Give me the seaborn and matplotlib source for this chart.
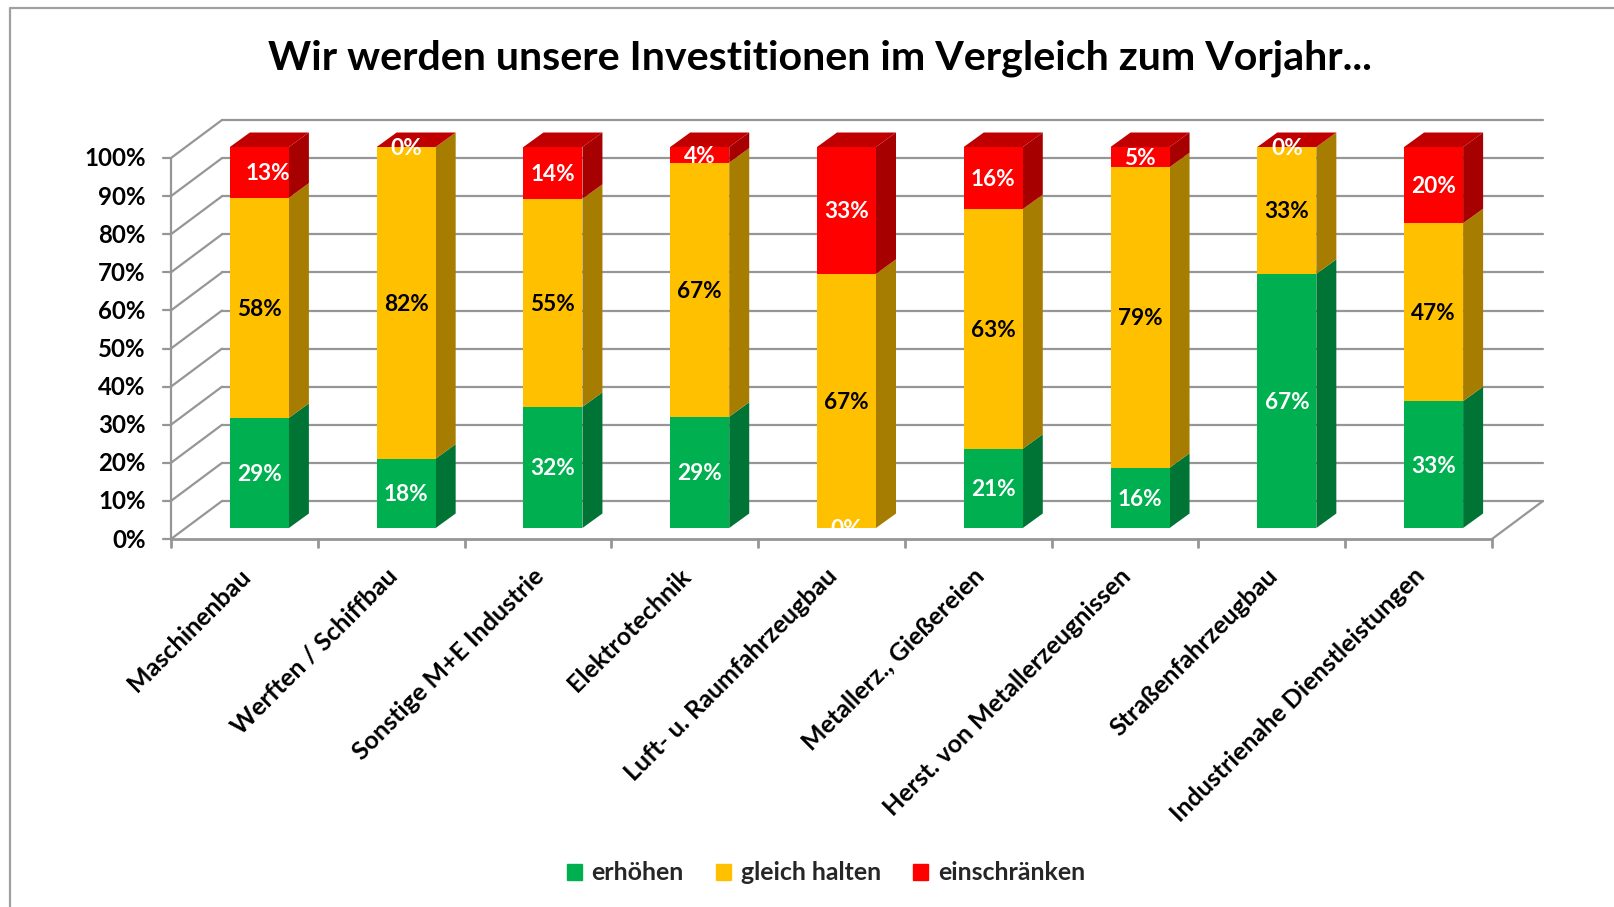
import matplotlib
matplotlib.use("Agg")
import matplotlib.pyplot as plt
import matplotlib.transforms as mtrans
from matplotlib.lines import Line2D
from matplotlib.patches import Patch
import numpy as np
import seaborn as sns

categories = ["Maschinenbau", "Werften / Schiffbau", "Sonstige M+E Industrie", "Elektrotechnik",
              "Luft- u. Raumfahrzeugbau", "Metallerz., Gießereien", "Herst. von Metallerzeugnissen",
              "Straßenfahrzeugbau", "Industrienahe Dienstleistungen"]
erhoehen = [28.9, 18.2, 31.8, 29.2, 0.0, 20.8, 15.8, 66.7, 33.3]
gleich_halten = [57.8, 81.8, 54.6, 66.7, 66.7, 62.9, 78.9, 33.3, 46.7]
einschraenken = [13.3, 0.0, 13.6, 4.1, 33.3, 16.3, 5.3, 0.0, 20.0]
series_names = ["erhöhen", "gleich halten", "einschränken"]
y_ticks = [0, 10, 20, 30, 40, 50, 60, 70, 80, 90, 100]

W, H = 1614, 907
GREY = "#969696"
FRONT = ["#00B050", "#FFC000", "#FF0000"]
SIDE = ["#007435", "#A67D00", "#A60000"]
CAP = "#C00000"

sns.set_theme(style="white")
plt.rcParams["font.family"] = ["Lato", "DejaVu Sans"]
plt.rcParams["font.weight"] = "bold"

fig = plt.figure(figsize=(W / 100, H / 100), dpi=100)
ax = fig.add_axes([186 / W, 1 - 528 / H, 1321 / W, 381 / H])

# seaborn has no stacking for bars, so draw running totals from tallest down
values = np.array([erhoehen, gleich_halten, einschraenken])
tops = values.cumsum(axis=0)
bottoms = tops - values
for i in [2, 1, 0]:
    sns.barplot(x=categories, y=tops[i], color=FRONT[i], saturation=1, width=0.402, ax=ax, zorder=3,
                linewidth=0)

ax.set_xlim(-0.5, 8.5)
ax.set_ylim(0, 100)
sns.despine(ax=ax, left=True, bottom=True)
ax.patch.set_alpha(0)

# pixel sizes of the fake 3D depth, turned into data units
px_x = 9 / 1321
px_y = 100 / 381
bar_dx, bar_dy = 20 * px_x, 14.5 * px_y
front_dx, front_dy = -15 * px_x, -11 * px_y
back_dx, back_dy = 36 * px_x, 27 * px_y
x0, x1 = ax.get_xlim()


def line(xs, ys, lw=1.6):
    ax.add_line(Line2D(xs, ys, color=GREY, lw=lw, clip_on=False, zorder=1))


# walls and floor
for t in y_ticks:
    line([x0 + back_dx, x1 + back_dx], [t + back_dy, t + back_dy])
    line([x0 + front_dx, x0 + back_dx], [t + front_dy, t + back_dy])
    line([x0 + front_dx - 8 * px_x, x0 + front_dx], [t + front_dy, t + front_dy])
line([x0 + front_dx, x0 + front_dx], [front_dy, 100 + front_dy])
line([x0 + front_dx, x1 + front_dx], [front_dy, front_dy], lw=2)
line([x1 + front_dx, x1 + back_dx], [front_dy, back_dy])
for k in range(len(categories) + 1):
    line([x0 + k + front_dx, x0 + k + front_dx], [front_dy, front_dy - 8 * px_y], lw=2)

# side and top faces of each bar
for k in range(len(categories)):
    left, right = k - 0.201, k + 0.201
    for i in range(3):
        b, t = bottoms[i][k], tops[i][k]
        if t > b:
            ax.fill([right, right + bar_dx, right + bar_dx, right],
                    [b, b + bar_dy, t + bar_dy, t],
                    color=SIDE[i], lw=0, clip_on=False, zorder=2)
    t = tops[2][k]
    ax.fill([left, left + bar_dx, right + bar_dx, right],
            [t, t + bar_dy, t + bar_dy, t],
            color=CAP, lw=0, clip_on=False, zorder=2)

# value labels, the first red one sits off centre in the original
label_colors = ["white", "black", "white"]
for k in range(len(categories)):
    for i in range(3):
        nudge = 8 * px_x if (k == 0 and i == 2) else 0
        ax.text(k + nudge, bottoms[i][k] + values[i][k] / 2 - 1.5 * px_y, f"{values[i][k]:.0f}%",
                color=label_colors[i], ha="center", va="center", fontsize=16.3, fontweight="bold", zorder=5)

# tick labels sit on the front plane, a little below the bar plane
ax.set_yticks(y_ticks)
ax.set_yticklabels([f"{t}%" for t in y_ticks], fontsize=17.3, fontweight="bold", color="black")
ax.tick_params(axis="y", length=0, pad=29)
shift = mtrans.ScaledTranslation(0, -10 / 100, fig.dpi_scale_trans)
for lab in ax.get_yticklabels():
    lab.set_transform(lab.get_transform() + shift)
ax.set_xticks(range(len(categories)))
ax.set_xticklabels(categories, rotation=45, ha="right", rotation_mode="anchor",
                   fontsize=18, fontweight="bold", color="black")
ax.tick_params(axis="x", length=0, pad=26)
shift_x = mtrans.ScaledTranslation(-21 / 100, 0, fig.dpi_scale_trans)
for lab in ax.get_xticklabels():
    lab.set_transform(lab.get_transform() + shift_x)
ax.set_xlabel("")
ax.set_ylabel("")

fig.text(820 / W, 1 - 58 / H, "Wir werden unsere Investitionen im Vergleich zum Vorjahr...",
         ha="center", va="center", fontsize=29.6, fontweight="bold", color="black")

handles = [Patch(color=c, label=n) for c, n in zip(FRONT, series_names)]
fig.legend(handles=handles, loc="center", bbox_to_anchor=(826 / W, 1 - 873 / H), ncol=3, frameon=False,
           fontsize=17.9, handlelength=0.6, handleheight=0.6, handletextpad=0.4, columnspacing=1.3)

# grey frame of the pasted chart, open on the right and the bottom
fig.add_artist(Line2D([10 / W, 10 / W, 1], [0, 1 - 8 / H, 1 - 8 / H], transform=fig.transFigure,
                      color="#A0A0A0", lw=1.6))

fig.savefig("out.png", dpi=100)
